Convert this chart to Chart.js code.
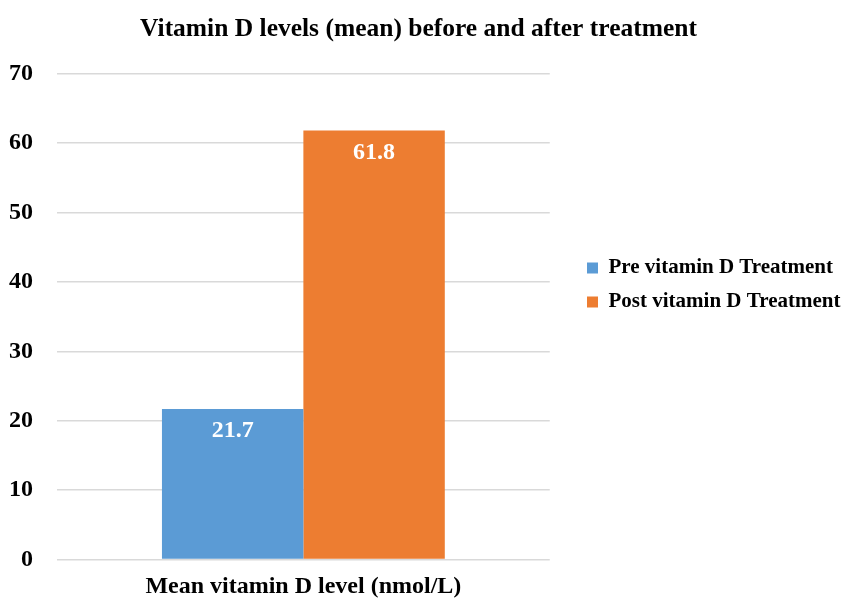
<!DOCTYPE html>
<html>
<head>
<meta charset="utf-8">
<script src="https://cdn.jsdelivr.net/npm/chart.js@4/dist/chart.umd.min.js"></script>
<style>
    html, body { margin: 0; padding: 0; background: #fff; }
    #wrap { width: 847px; height: 598px; }
</style>
</head>
<body>
<div id="wrap"><canvas id="vitd-chart"></canvas></div>
<script>
    "use strict";

    // Data
    var categories = ["Mean vitamin D level (nmol/L)"];
    var seriesNames = ["Pre vitamin D Treatment", "Post vitamin D Treatment"];
    var preValues = [21.7];
    var postValues = [61.8];
    var yTicks = [0, 10, 20, 30, 40, 50, 60, 70];

    var fontFamily = "'Liberation Serif', 'Times New Roman', serif";

    // Value labels inside the top of each bar
    var barLabels = {
        id: 'barLabels',
        afterDatasetsDraw: function (chart) {
            var ctx = chart.ctx;
            ctx.save();
            ctx.font = "bold 24px " + fontFamily;
            ctx.fillStyle = "#fff";
            ctx.textAlign = "center";
            ctx.textBaseline = "middle";
            chart.data.datasets.forEach(function (ds, i) {
                chart.getDatasetMeta(i).data.forEach(function (bar, j) {
                    ctx.fillText(ds.data[j].toFixed(1), bar.x, bar.y + 22);
                });
            });
            ctx.restore();
        }
    };

    // Title over the full width, legend moved up/right like the original
    var boxShift = {
        id: 'boxShift',
        afterLayout: function (chart) {
            var t = chart.titleBlock;
            t.left = 0; t.right = chart.width - 10;
            var lg = chart.legend;
            lg.left = 574; lg.right = chart.width;
            lg.width = lg.right - lg.left;
            lg.top -= 14; lg.bottom -= 14;
        }
    };

    var ctx1 = document.getElementById("vitd-chart").getContext("2d");
    var myChart1 = new Chart(ctx1, {
        type: "bar",
        data: {
            labels: categories,
            datasets: [{
                label: seriesNames[0],
                data: preValues,
                backgroundColor: "#5b9bd5"
            }, {
                label: seriesNames[1],
                data: postValues,
                backgroundColor: "#ed7d31"
            }]
        },
        options: {
            responsive: true,
            maintainAspectRatio: false,
            animation: false,
            layout: {
                padding: { left: 9, right: 117, top: 0, bottom: 0 }
            },
            datasets: {
                bar: { categoryPercentage: 0.574, barPercentage: 1.0 }
            },
            plugins: {
                title: {
                    display: true,
                    text: "Vitamin D levels (mean) before and after treatment",
                    color: "#000",
                    font: { family: fontFamily, size: 25.5, weight: 'bold' },
                    padding: { top: 14, bottom: 29 }
                },
                legend: {
                    position: 'right',
                    labels: {
                        color: "#000",
                        font: { family: fontFamily, size: 21, weight: 'bold' },
                        boxWidth: 11,
                        boxHeight: 11,
                        padding: 13
                    }
                },
                tooltip: { enabled: false }
            },
            scales: {
                x: {
                    grid: { display: false, drawTicks: false },
                    border: { display: false },
                    afterFit: function (axis) {
                        axis.paddingLeft = 0;
                        axis.paddingRight = 0;
                        axis.height = 38;
                    },
                    ticks: {
                        color: "#000",
                        font: { family: fontFamily, size: 24, weight: 'bold' },
                        padding: 13
                    }
                },
                y: {
                    min: 0,
                    max: 70,
                    afterBuildTicks: function (axis) {
                        axis.ticks = yTicks.map(function (v) { return { value: v }; });
                    },
                    afterFit: function (axis) {
                        axis.width = 48;
                    },
                    grid: { color: "#d9d9d9", lineWidth: 1.5, drawTicks: false },
                    border: { display: false },
                    ticks: {
                        color: "#000",
                        font: { family: fontFamily, size: 24, weight: 'bold' },
                        padding: 24
                    }
                }
            }
        },
        plugins: [barLabels, boxShift]
    });
</script>
</body>
</html>
